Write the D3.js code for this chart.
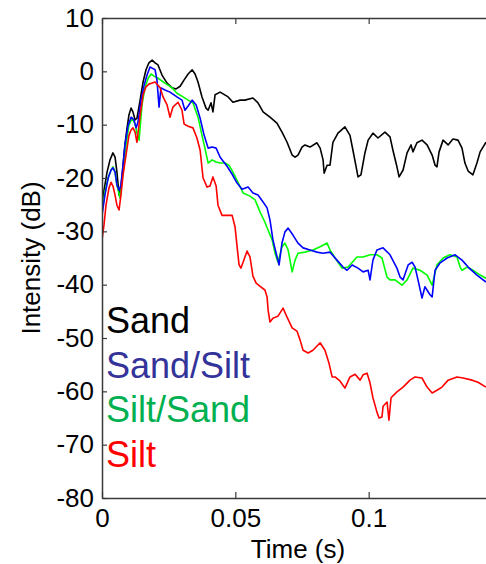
<!DOCTYPE html>
<html>
<head>
<meta charset="utf-8">
<script src="https://cdn.jsdelivr.net/npm/d3@7"></script>
<style>
  html, body { margin: 0; padding: 0; background: #fff; }
  svg { display: block; font-family: "Liberation Sans", Arial, sans-serif; }
</style>
</head>
<body>
<svg id="chart" width="486" height="564"></svg>
<script>
// Received intensity (dB) over time (s) for four sediment types: [time, dB]
const sand = [
  [0,-25.1],[0.00075,-22.3],[0.0019,-18.9],[0.003,-16.6],[0.0041,-15.3],[0.0049,-16.1],[0.0056,-18.9],
  [0.0064,-23.2],[0.0071,-21.9],[0.0079,-17.6],[0.0086,-13.8],[0.0094,-10.6],[0.0101,-8.2],[0.0109,-6.9],
  [0.0116,-7.6],[0.0124,-9.1],[0.0131,-8.8],[0.0143,-5.4],[0.0154,-2.0],[0.0165,0.3],[0.0176,1.6],
  [0.0188,2.1],[0.0199,1.6],[0.021,1.2],[0.0225,-0.7],[0.0244,-2.2],[0.0263,-3.1],[0.0278,-3.3],
  [0.0293,-2.8],[0.0308,-1.6],[0.0323,-0.5],[0.0338,0.3],[0.0349,-0.5],[0.036,-2.0],[0.0375,-4.8],
  [0.039,-6.9],[0.0398,-7.3],[0.0409,-5.9],[0.0416,-7.6],[0.0424,-4.4],[0.0443,-3.9],[0.0473,-4.8],
  [0.0491,-5.8],[0.0518,-5.4],[0.0536,-5.4],[0.0566,-5.0],[0.0585,-5.9],[0.0604,-7.6],[0.063,-8.6],
  [0.0656,-9.7],[0.0675,-11.4],[0.0694,-13.3],[0.0713,-15.7],[0.0724,-16.1],[0.0735,-15.7],[0.075,-14.2],
  [0.0761,-13.8],[0.078,-14.2],[0.0806,-13.4],[0.0818,-14.4],[0.0829,-16.6],[0.0833,-19.1],[0.0844,-17.6],
  [0.0855,-17.6],[0.0866,-13.3],[0.0885,-11.6],[0.0911,-10.4],[0.093,-12.0],[0.0941,-14.8],[0.0953,-17.9],
  [0.096,-19.8],[0.0971,-19.4],[0.0986,-15.3],[0.0998,-12.9],[0.1016,-11.6],[0.1035,-12.5],[0.1061,-11.4],
  [0.108,-12.3],[0.1091,-14.8],[0.1106,-17.9],[0.1114,-19.8],[0.1129,-18.5],[0.1144,-15.3],[0.1159,-13.8],
  [0.1166,-15.1],[0.1181,-13.4],[0.12,-12.9],[0.1219,-13.8],[0.1238,-15.7],[0.1249,-17.6],[0.1256,-17.9],
  [0.1264,-15.1],[0.1279,-12.9],[0.1298,-13.8],[0.1316,-12.7],[0.1335,-12.9],[0.135,-14.4],[0.1361,-17.2],
  [0.1373,-18.7],[0.1391,-19.4],[0.1406,-17.2],[0.1418,-15.1],[0.144,-13.3]
];

const sandSilt = [
  [0,-27.0],[0.0011,-23.2],[0.0023,-20.0],[0.0034,-18.5],[0.0041,-18.1],[0.0049,-18.9],[0.0056,-21.3],
  [0.0064,-22.3],[0.0071,-21.3],[0.0079,-17.6],[0.0086,-13.8],[0.0098,-10.1],[0.0109,-8.6],[0.012,-9.1],
  [0.0128,-10.6],[0.0135,-9.5],[0.0146,-5.4],[0.0158,-2.6],[0.0169,-0.7],[0.018,0.8],[0.0188,0.6],
  [0.0199,0.3],[0.0206,-1.6],[0.0214,-6.7],[0.0221,-3.1],[0.0236,-3.5],[0.0255,-3.9],[0.0281,-4.8],
  [0.03,-5.4],[0.0311,-7.3],[0.0323,-6.5],[0.0338,-5.4],[0.0353,-6.3],[0.0368,-8.8],[0.0383,-12.0],
  [0.0398,-14.4],[0.0413,-14.2],[0.0428,-14.4],[0.0443,-16.1],[0.0469,-17.8],[0.0488,-19.3],[0.0506,-20.9],
  [0.0525,-22.1],[0.0548,-21.7],[0.0566,-22.8],[0.0585,-23.2],[0.0604,-24.5],[0.0619,-25.6],[0.063,-27.9],
  [0.0641,-31.6],[0.0653,-34.1],[0.0664,-36.3],[0.0675,-32.2],[0.0686,-30.1],[0.0698,-29.4],[0.0716,-30.7],
  [0.0735,-32.2],[0.0754,-33.1],[0.078,-33.5],[0.0806,-33.9],[0.0829,-34.1],[0.0855,-33.9],[0.0881,-35.4],
  [0.0904,-36.7],[0.0919,-37.3],[0.0938,-36.3],[0.096,-36.9],[0.0979,-37.6],[0.0998,-37.3],[0.1005,-39.1],
  [0.1016,-35.4],[0.1031,-33.5],[0.1054,-33.1],[0.108,-34.4],[0.1106,-36.9],[0.1118,-38.6],[0.1129,-39.1],
  [0.1148,-36.3],[0.1163,-35.8],[0.1174,-36.7],[0.1185,-39.1],[0.12,-42.5],[0.1211,-40.4],[0.123,-41.9],
  [0.1238,-42.3],[0.1249,-37.3],[0.1268,-35.9],[0.1294,-35.0],[0.1324,-34.4],[0.135,-35.4],[0.1373,-36.7],
  [0.1406,-38.2],[0.144,-39.5]
];

const siltSand = [
  [0,-26.4],[0.0011,-22.6],[0.0023,-20.0],[0.0034,-18.5],[0.0041,-17.9],[0.0049,-18.9],[0.0056,-21.3],
  [0.0068,-23.8],[0.0079,-18.9],[0.009,-13.8],[0.0101,-10.1],[0.0113,-8.8],[0.0124,-9.9],[0.0131,-11.6],
  [0.0139,-12.9],[0.015,-6.3],[0.0161,-3.1],[0.0173,-1.3],[0.0184,-0.5],[0.0195,-0.9],[0.021,-1.3],
  [0.0236,-2.2],[0.0263,-3.1],[0.0281,-4.1],[0.0304,-4.8],[0.0323,-5.4],[0.0341,-5.9],[0.036,-8.6],
  [0.0375,-12.0],[0.0386,-14.4],[0.0398,-17.2],[0.0413,-16.6],[0.0428,-17.0],[0.0443,-17.2],[0.0461,-17.2],
  [0.0476,-17.6],[0.0491,-18.9],[0.051,-20.8],[0.0529,-22.8],[0.0555,-23.4],[0.0574,-24.1],[0.0593,-26.4],
  [0.0611,-28.3],[0.0623,-29.8],[0.0638,-31.6],[0.0649,-34.1],[0.066,-35.8],[0.0675,-32.9],[0.0686,-32.2],
  [0.0698,-33.5],[0.0713,-37.6],[0.0724,-35.4],[0.0735,-34.1],[0.0761,-33.9],[0.0791,-33.5],[0.0818,-32.9],
  [0.0844,-32.2],[0.0855,-33.5],[0.0874,-35.0],[0.09,-36.9],[0.0923,-36.7],[0.0956,-34.8],[0.0979,-34.8],
  [0.1005,-34.4],[0.1031,-34.4],[0.105,-35.0],[0.1069,-38.6],[0.108,-39.1],[0.1099,-39.1],[0.1125,-40.1],
  [0.1144,-39.1],[0.1166,-36.9],[0.1193,-37.3],[0.1219,-38.2],[0.1238,-40.1],[0.1256,-36.3],[0.1279,-35.0],
  [0.1305,-34.4],[0.1331,-34.8],[0.1343,-36.7],[0.135,-37.3],[0.1369,-36.7],[0.1391,-37.3],[0.1418,-38.2],
  [0.144,-38.8]
];

const silt = [
  [0,-31.6],[0.00075,-28.8],[0.0015,-25.1],[0.0026,-21.9],[0.0034,-20.8],[0.0041,-21.5],[0.0049,-23.2],
  [0.0056,-25.1],[0.0064,-26.0],[0.0071,-23.2],[0.0079,-19.4],[0.009,-15.7],[0.0101,-12.0],[0.0109,-11.0],
  [0.0116,-10.6],[0.0124,-11.4],[0.0131,-13.3],[0.0143,-8.2],[0.0154,-4.4],[0.0165,-2.9],[0.0176,-2.4],
  [0.0188,-2.2],[0.0199,-2.0],[0.021,-2.6],[0.0218,-3.1],[0.0229,-4.8],[0.0244,-6.3],[0.0255,-8.6],
  [0.0266,-6.7],[0.0285,-5.8],[0.03,-7.3],[0.0308,-9.9],[0.0323,-10.3],[0.0341,-10.6],[0.0356,-12.5],
  [0.0368,-14.8],[0.0379,-20.0],[0.0394,-21.7],[0.0405,-21.5],[0.0416,-19.8],[0.0428,-21.5],[0.0435,-25.1],
  [0.045,-27.0],[0.0473,-27.0],[0.0488,-27.0],[0.0499,-29.2],[0.0506,-32.6],[0.0514,-36.3],[0.0521,-36.9],
  [0.0529,-35.8],[0.0544,-33.7],[0.0555,-34.8],[0.0566,-38.4],[0.0578,-39.7],[0.0593,-40.3],[0.0611,-41.0],
  [0.0619,-42.3],[0.0623,-44.8],[0.063,-47.0],[0.0641,-46.3],[0.066,-45.9],[0.0679,-44.4],[0.0694,-46.1],
  [0.0713,-48.1],[0.0731,-48.7],[0.0743,-50.4],[0.0754,-52.3],[0.0773,-52.8],[0.0791,-52.3],[0.0818,-50.9],
  [0.0836,-52.3],[0.0851,-54.7],[0.0863,-57.3],[0.0874,-57.3],[0.0893,-58.1],[0.0911,-59.4],[0.093,-57.3],
  [0.0949,-56.8],[0.0968,-57.9],[0.0979,-56.9],[0.0994,-56.6],[0.1005,-58.4],[0.1016,-61.2],[0.1031,-63.9],
  [0.1039,-65.0],[0.105,-64.8],[0.1054,-62.8],[0.1069,-62.0],[0.1076,-65.4],[0.1084,-61.2],[0.1106,-60.1],
  [0.1129,-59.2],[0.1155,-57.9],[0.1174,-57.3],[0.12,-57.5],[0.1219,-59.2],[0.1238,-60.3],[0.1256,-59.8],
  [0.1275,-59.2],[0.1298,-57.9],[0.1331,-57.3],[0.1354,-57.5],[0.1388,-57.9],[0.141,-58.3],[0.144,-59.2]
];

const seriesNames = ["Sand", "Sand/Silt", "Silt/Sand", "Silt"];
const lineColors = ["#000000", "#0000ff", "#00ff00", "#ff0000"];
const labelColors = ["#000000", "#333399", "#00b050", "#ff0000"];
const xTicks = [0, 0.05, 0.1];
const xTickLabels = ["0", "0.05", "0.1"];
const yTicks = [-80, -70, -60, -50, -40, -30, -20, -10, 0, 10];
const xDomain = [0, 0.147];
const yDomain = [-80, 10];

const svg = d3.select("#chart");
const margin = { left: 102, top: 18, bottom: 498 };
const x = d3.scaleLinear().domain(xDomain).range([margin.left, margin.left + 0.147 * 2666.7]);
const y = d3.scaleLinear().domain(yDomain).range([margin.bottom, margin.top]);
const [x0, x1] = x.range();

svg.append("rect").attr("width", 486).attr("height", 564).attr("fill", "#fff");

svg.append("defs").append("clipPath").attr("id", "plot-clip")
  .append("rect").attr("x", x0).attr("y", margin.top)
  .attr("width", x1 - x0).attr("height", margin.bottom - margin.top);

// Curves, drawn in plotting order
const line = d3.line().x(d => x(d[0])).y(d => y(d[1]));
const drawOrder = [
  { data: sand, color: lineColors[0] },
  { data: siltSand, color: lineColors[2] },
  { data: sandSilt, color: lineColors[1] },
  { data: silt, color: lineColors[3] }
];
const plot = svg.append("g").attr("clip-path", "url(#plot-clip)");
plot.selectAll("path").data(drawOrder).join("path")
  .attr("d", d => line(d.data))
  .attr("fill", "none")
  .attr("stroke", d => d.color)
  .attr("stroke-width", 1.6)
  .attr("stroke-linejoin", "round");

// Axes with inward ticks
const axisColor = "#3a3a3a";
const fontSize = 26;

const gy = svg.append("g").attr("transform", `translate(${x0},0)`)
  .call(d3.axisLeft(y).tickValues(yTicks).tickFormat(d => String(d))
    .tickSizeInner(-5).tickSizeOuter(0).tickPadding(8));
const gx = svg.append("g").attr("transform", `translate(0,${margin.bottom})`)
  .call(d3.axisBottom(x).tickValues(xTicks).tickFormat((d, i) => xTickLabels[i])
    .tickSizeInner(-6).tickSizeOuter(0).tickPadding(11));
const gTop = svg.append("g").attr("transform", `translate(0,${margin.top})`)
  .call(d3.axisTop(x).tickValues(xTicks).tickFormat("").tickSizeInner(-6).tickSizeOuter(0));
const gRight = svg.append("g").attr("transform", `translate(${x1},0)`)
  .call(d3.axisRight(y).tickValues(yTicks).tickFormat("").tickSizeInner(-5).tickSizeOuter(0));

[gx, gy, gTop, gRight].forEach(g => {
  g.select(".domain").attr("stroke", axisColor).attr("stroke-width", 1.5);
  g.selectAll(".tick line").attr("stroke", axisColor).attr("stroke-width", 1.2);
  g.selectAll(".tick text")
    .attr("fill", "#000")
    .style("font-family", '"Liberation Sans", Arial, sans-serif')
    .style("font-size", fontSize + "px");
});

// Axis titles
svg.append("text")
  .attr("x", (x0 + x1) / 2).attr("y", 558)
  .attr("text-anchor", "middle")
  .style("font-size", fontSize + "px")
  .text("Time (s)");

svg.append("text")
  .attr("transform", `translate(40,${(margin.top + margin.bottom) / 2}) rotate(-90)`)
  .attr("text-anchor", "middle")
  .style("font-size", fontSize + "px")
  .text("Intensity (dB)");

// Legend as coloured labels
const legendBaselines = [333, 378, 422, 467];
svg.selectAll("text.legend").data(seriesNames).join("text")
  .attr("class", "legend")
  .attr("x", 106)
  .attr("y", (d, i) => legendBaselines[i])
  .attr("fill", (d, i) => labelColors[i])
  .style("font-size", "36px")
  .text(d => d);
</script>
</body>
</html>
